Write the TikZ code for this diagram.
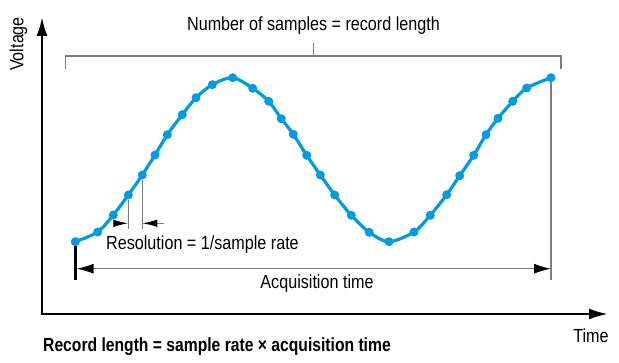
\documentclass[tikz,border=0pt]{standalone}
\usepackage{fontspec}
\setmainfont{Liberation Sans}[FakeStretch=0.85, BoldFeatures={FakeStretch=0.825}]
\usetikzlibrary{arrows.meta}
\definecolor{waveblue}{RGB}{0,155,225}
\definecolor{guidegray}{RGB}{125,125,125}

\begin{document}
\begin{tikzpicture}[
    x = 1pt,
    y = -1pt,
    axis/.style = {line width=2.4pt, line cap=rect, -{Latex[length=19pt,width=11pt]}},
    wave/.style = {waveblue, line width=3.2pt, line join=round},
    guide/.style = {guidegray, line width=1.3pt},
    dimline/.style = {guide, {Latex[length=17pt,width=10pt,color=black]}-{Latex[length=17pt,width=10pt,color=black]}},
    resarrow/.style = {guide, -{Latex[length=15pt,width=7.5pt,color=black]}},
    label/.style = {inner sep=0pt, font=\fontsize{19}{22}\selectfont},
    ]

    \tikzstyle{sample}=[
    circle,
    fill = waveblue,
    inner sep = 0pt,
    minimum size = 9pt,
    ]

    \useasboundingbox (0,0) rectangle (619,363);

    % samples along the wave
    \foreach \x/\y [count=\i from 0] in {
      75.3/241.7, 97.7/232, 113.3/215, 128.3/195, 142.3/175, 155/155,
      167.3/134.7, 182.3/114.7, 196/97.7, 212.3/84.7, 232.7/77.7,
      252.7/88.3, 268.7/101.3, 281.3/118.7, 293.3/134.3, 306.7/155.3,
      320.3/175, 334.7/195, 351.3/215.3, 369.3/232.3, 389/241.7,
      414/232, 430.3/215.3, 446.7/194.7, 459.7/175.7, 473.7/155.3,
      486/134.7, 498/118.3, 512.7/101.3, 526.7/88, 551/77.7}
      \node[sample] (s\i) at (\x,\y) {};

    \draw[wave] plot[smooth] coordinates {(s0.center) (s1.center)
      (s2.center) (s3.center) (s4.center) (s5.center) (s6.center)
      (s7.center) (s8.center) (s9.center) (s10.center) (s11.center)
      (s12.center) (s13.center) (s14.center) (s15.center) (s16.center)
      (s17.center) (s18.center) (s19.center) (s20.center) (s21.center)
      (s22.center) (s23.center) (s24.center) (s25.center) (s26.center)
      (s27.center) (s28.center) (s29.center) (s30.center)};

    % axes
    \coordinate (origin) at (42,314);
    \coordinate (vtop) at (42,17);
    \coordinate (tright) at (608,314);
    \draw[axis] (origin) -- (vtop);
    \draw[axis] (origin) -- (tright);

    \node[label, rotate=90] (voltage) at (18.5,44) {Voltage};
    \node[label, anchor=base] (time) at (591,342.3) {Time};

    % record length bracket
    \node[label, anchor=base] (title) at (313.5,31) {Number of samples = record length};
    \coordinate (brL) at (65.7,69);
    \coordinate (brR) at (561,69);
    \coordinate (brTop) at (0,56);
    \coordinate (brMid) at (313.5,56);
    \coordinate (tickTop) at (313.5,43);
    \draw[guide] (brL) -- (brL |- brTop) -- (brR |- brTop) -- (brR);
    \draw[guide] (brMid) -- (tickTop);

    % resolution
    \coordinate (resL) at (128.3,229);
    \coordinate (resR) at (142.3,229);
    \coordinate (resA) at (113,223.3);
    \coordinate (resB) at (164.3,223.3);
    \draw[guide] (s3.south) -- (resL);
    \draw[guide] (s4.south) -- (resR);
    \draw[resarrow] (resA) -- (s3 |- resA);
    \draw[resarrow] (resB) -- (s4 |- resA);
    \node[label, anchor=base west] (resolution) at (106,249.5) {Resolution = 1/sample rate};

    % acquisition time
    \coordinate (acqL) at (75.3,280);
    \coordinate (acqR) at (551,280);
    \coordinate (acqY) at (0,268.7);
    \draw[line width=2.4pt] (s0.south) -- (acqL);
    \draw[guide] (s30.south) -- (acqR);
    \draw[dimline] ([xshift=1.2pt]s0 |- acqY) -- (s30 |- acqY);
    \node[label, anchor=base] (acq) at (317,289) {Acquisition time};

    \node[label, anchor=base west] (formula) at (43,351.7)
      {\bfseries Record length = sample rate × acquisition time};
  \end{tikzpicture}
\end{document}
